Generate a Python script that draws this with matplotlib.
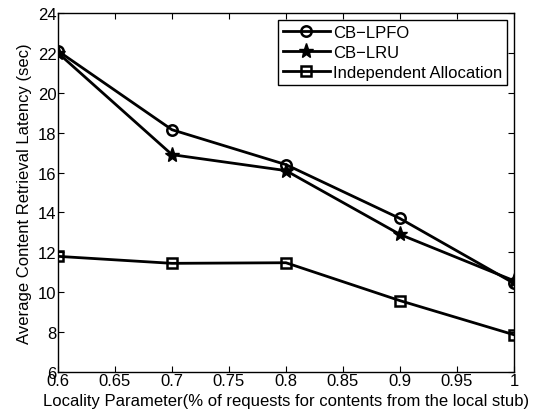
import matplotlib
matplotlib.use("Agg")
import matplotlib.pyplot as plt

plt.rcParams['font.family'] = ['Liberation Sans', 'DejaVu Sans']

x = [0.6, 0.7, 0.8, 0.9, 1.0]
cb_lpfo = [22.1, 18.15, 16.4, 13.7, 10.45]
cb_lru = [22.0, 16.9, 16.1, 12.9, 10.58]
independent = [11.8, 11.45, 11.48, 9.58, 7.87]
labels = ['CB\u2212LPFO', 'CB\u2212LRU', 'Independent Allocation']
xticks = [0.6, 0.65, 0.7, 0.75, 0.8, 0.85, 0.9, 0.95, 1.0]
xticklabels = ['0.6', '0.65', '0.7', '0.75', '0.8', '0.85', '0.9', '0.95', '1']
yticks = [6, 8, 10, 12, 14, 16, 18, 20, 22, 24]

fig = plt.figure(figsize=(5.37, 4.14), dpi=100)
ax = fig.add_axes([0.108, 0.099, 0.849, 0.867])

ax.plot(x, cb_lpfo, color='black', lw=2, marker='o', ms=7.5, mfc='none', mew=1.8, label=labels[0])
ax.plot(x, cb_lru, color='black', lw=2, marker='*', ms=11, mfc='black', label=labels[1])
ax.plot(x, independent, color='black', lw=2, marker='s', ms=6.5, mfc='none', mew=1.8, label=labels[2])

ax.set_xlim(0.6, 1.0)
ax.set_ylim(6, 24)
ax.set_xticks(xticks)
ax.set_xticklabels(xticklabels)
ax.set_yticks(yticks)
ax.tick_params(direction='in', top=True, right=True, labelsize=12, pad=1, length=4)
for s in ax.spines.values():
    s.set_linewidth(1)

ax.set_xlabel('Locality Parameter(% of requests for contents from the local stub)', fontsize=12, labelpad=3)
ax.set_ylabel('Average Content Retrieval Latency (sec)', fontsize=12, labelpad=4)

leg = ax.legend(loc='upper right', fontsize=12, fancybox=False, framealpha=1,
                edgecolor='black', borderaxespad=0.4, handlelength=2.8,
                borderpad=0.3, labelspacing=0.3, handletextpad=0.2)
leg.get_frame().set_linewidth(1)

fig.savefig('out.png', dpi=100)
